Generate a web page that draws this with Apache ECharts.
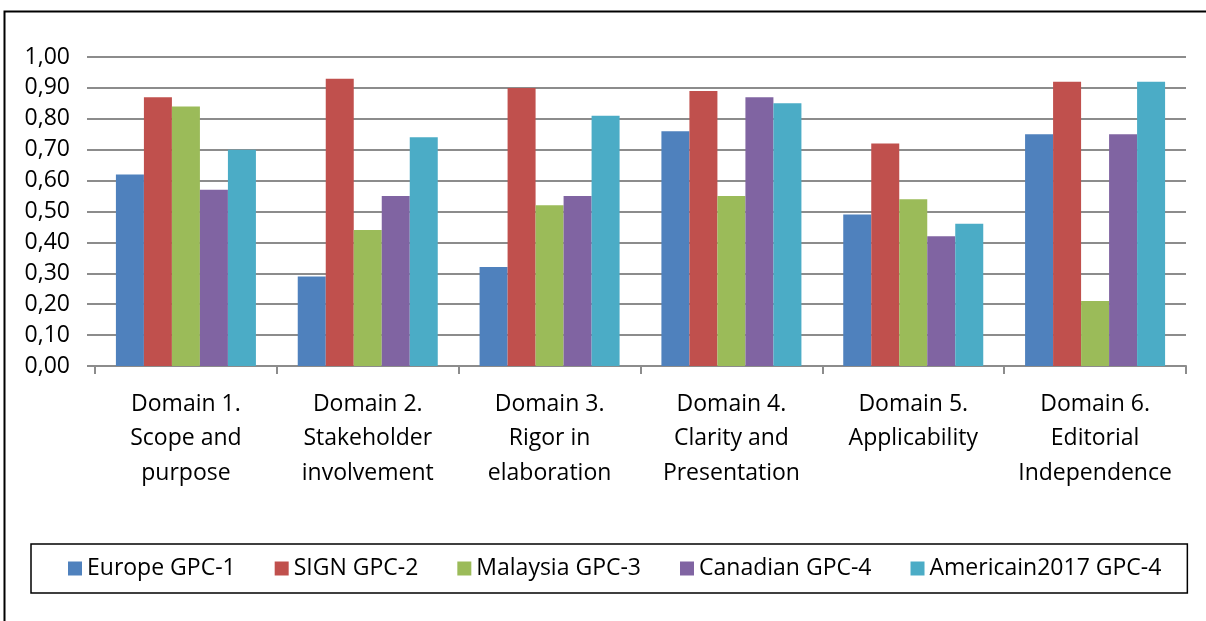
<!DOCTYPE html>
<html><head><meta charset="utf-8">
<script src="https://cdn.jsdelivr.net/npm/echarts@6/dist/echarts.min.js"></script>
<style>html,body{margin:0;padding:0;background:#fff}#c{width:1206px;height:621px}</style>
</head><body><div id="c"></div>
<script>
const categories = ["Domain 1.\nScope and\npurpose","Domain 2.\nStakeholder\ninvolvement","Domain 3.\nRigor in\nelaboration","Domain 4.\nClarity and\nPresentation","Domain 5.\nApplicability","Domain 6.\nEditorial\nIndependence"];
const seriesNames = ["Europe GPC-1","SIGN GPC-2","Malaysia GPC-3","Canadian GPC-4","Americain2017 GPC-4"];
const europe = [0.62,0.29,0.32,0.76,0.49,0.75];
const sign = [0.87,0.93,0.90,0.89,0.72,0.92];
const malaysia = [0.84,0.44,0.52,0.55,0.54,0.21];
const canadian = [0.57,0.55,0.55,0.87,0.42,0.75];
const americain = [0.70,0.74,0.81,0.85,0.46,0.92];
const colors = ["#4F81BD","#C0504D","#9BBB59","#8064A2","#4BACC6"];
const values = [europe, sign, malaysia, canadian, americain];
const font = "'Open Sans', 'Noto Sans', sans-serif";

const chart = echarts.init(document.getElementById('c'));
chart.setOption({
  animation:false,
  textStyle:{fontFamily:font},
  graphic:[{type:'polyline',shape:{points:[[4.5,621],[4.5,11.5],[1206,11.5]]},style:{stroke:'#000',lineWidth:2,fill:null}}],
  legend:{
    data:seriesNames, left:31, top:544, itemWidth:14, itemHeight:14, itemGap:39,
    padding:[13,26,13,37], borderColor:'#000', borderWidth:1.5,
    textStyle:{fontSize:23,color:'#000',fontFamily:font}, icon:'rect'
  },
  grid:{left:95,right:20,top:57,bottom:255,containLabel:false},
  xAxis:{type:'category',data:categories,
    axisLine:{lineStyle:{color:'#8c8c8c',width:2}},
    axisTick:{show:true,length:8,lineStyle:{color:'#8c8c8c',width:2}},
    axisLabel:{fontSize:23,color:'#000',lineHeight:34.5,margin:21,interval:0}},
  yAxis:{type:'value',min:0,max:1,interval:0.1,
    axisLine:{show:false},
    axisTick:{show:true,length:8,lineStyle:{color:'#8c8c8c',width:2}},
    splitLine:{lineStyle:{color:'#8c8c8c',width:2}},
    axisLabel:{fontSize:23,color:'#000',margin:25,formatter:v=>v.toFixed(2).replace('.',',')}},
  series: seriesNames.map((n,i)=>({name:n,type:'bar',data:values[i],barGap:'0%',barCategoryGap:'23%',itemStyle:{color:colors[i]}}))
});
</script></body></html>
